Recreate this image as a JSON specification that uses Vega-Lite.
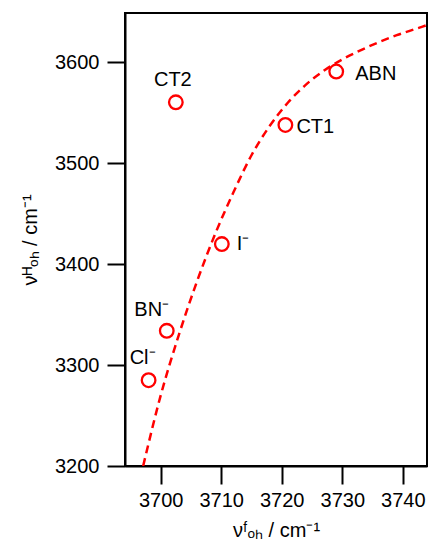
{
  "$schema": "https://vega.github.io/schema/vega-lite/v6.json",
  "autosize": {"type": "none"},
  "width": 302,
  "height": 453,
  "padding": {"left": 125, "top": 13, "right": 2, "bottom": 76},
  "background": "white",
  "config": {
    "view": {"stroke": "black", "strokeWidth": 2},
    "font": "Liberation Sans",
    "axis": {
      "domainColor": "black", "domainWidth": 2,
      "tickColor": "black", "tickWidth": 2, "tickSize": 18,
      "labelFont": "Liberation Sans", "labelFontSize": 20, "labelColor": "black",
      "titleFont": "Liberation Sans", "titleFontSize": 20, "titleFontWeight": "normal", "titleColor": "black",
      "grid": false
    }
  },
  "datasets": {
    "pts": [
      {"x": 3702.5, "y": 3560.5, "label": "CT2"},
      {"x": 3729.0, "y": 3591.0, "label": "ABN"},
      {"x": 3720.6, "y": 3538.0, "label": "CT1"},
      {"x": 3710.1, "y": 3420.0, "label": "I⁻"},
      {"x": 3701.0, "y": 3334.0, "label": "BN⁻"},
      {"x": 3698.0, "y": 3285.0, "label": "Cl⁻"}
    ],
    "curve": [
      {"x": 3697.1, "y": 3200},
      {"x": 3700, "y": 3270},
      {"x": 3703, "y": 3330},
      {"x": 3706, "y": 3383},
      {"x": 3709, "y": 3430},
      {"x": 3712, "y": 3471},
      {"x": 3715, "y": 3508},
      {"x": 3718, "y": 3537},
      {"x": 3721, "y": 3560},
      {"x": 3724, "y": 3578},
      {"x": 3727, "y": 3592},
      {"x": 3730, "y": 3603},
      {"x": 3733, "y": 3612},
      {"x": 3736, "y": 3620},
      {"x": 3739, "y": 3627},
      {"x": 3742, "y": 3633},
      {"x": 3744, "y": 3637}
    ]
  },
  "encoding": {
    "x": {
      "field": "x", "type": "quantitative",
      "scale": {"domain": [3694.1, 3744], "nice": false, "zero": false},
      "axis": {"values": [3700, 3710, 3720, 3730, 3740], "format": "d", "title": "νᶠₒₕ / cm⁻¹", "labelPadding": 6, "titlePadding": 10}
    },
    "y": {
      "field": "y", "type": "quantitative",
      "scale": {"domain": [3200, 3649], "nice": false, "zero": false},
      "axis": {"values": [3200, 3300, 3400, 3500, 3600], "format": "d", "title": "νᴴₒₕ / cm⁻¹", "labelPadding": 8, "titlePadding": 14}
    }
  },
  "layer": [
    {
      "data": {"name": "curve"},
      "mark": {"type": "line", "color": "#FF0000", "strokeWidth": 2.5, "strokeDash": [8, 5], "interpolate": "monotone", "clip": true}
    },
    {
      "data": {"name": "pts"},
      "mark": {"type": "point", "shape": "circle", "filled": false, "stroke": "#FF0000", "strokeWidth": 2.3, "size": 185, "opacity": 1}
    },
    {
      "data": {"name": "pts"},
      "transform": [{"filter": "datum.label === 'CT2'"}],
      "mark": {"type": "text", "fontSize": 20, "align": "center", "baseline": "middle", "dx": -3, "dy": -22, "color": "black"},
      "encoding": {"text": {"field": "label"}}
    },
    {
      "data": {"name": "pts"},
      "transform": [{"filter": "datum.label === 'ABN'"}],
      "mark": {"type": "text", "fontSize": 20, "align": "left", "baseline": "middle", "dx": 19, "dy": 2, "color": "black"},
      "encoding": {"text": {"field": "label"}}
    },
    {
      "data": {"name": "pts"},
      "transform": [{"filter": "datum.label === 'CT1'"}],
      "mark": {"type": "text", "fontSize": 20, "align": "left", "baseline": "middle", "dx": 11, "dy": 2, "color": "black"},
      "encoding": {"text": {"field": "label"}}
    },
    {
      "data": {"name": "pts"},
      "transform": [{"filter": "datum.label === 'I⁻'"}],
      "mark": {"type": "text", "fontSize": 20, "align": "left", "baseline": "middle", "dx": 15, "dy": 0, "color": "black"},
      "encoding": {"text": {"field": "label"}}
    },
    {
      "data": {"name": "pts"},
      "transform": [{"filter": "datum.label === 'BN⁻'"}],
      "mark": {"type": "text", "fontSize": 20, "align": "center", "baseline": "middle", "dx": -15, "dy": -21, "color": "black"},
      "encoding": {"text": {"field": "label"}}
    },
    {
      "data": {"name": "pts"},
      "transform": [{"filter": "datum.label === 'Cl⁻'"}],
      "mark": {"type": "text", "fontSize": 20, "align": "center", "baseline": "middle", "dx": -6, "dy": -22, "color": "black"},
      "encoding": {"text": {"field": "label"}}
    }
  ]
}
